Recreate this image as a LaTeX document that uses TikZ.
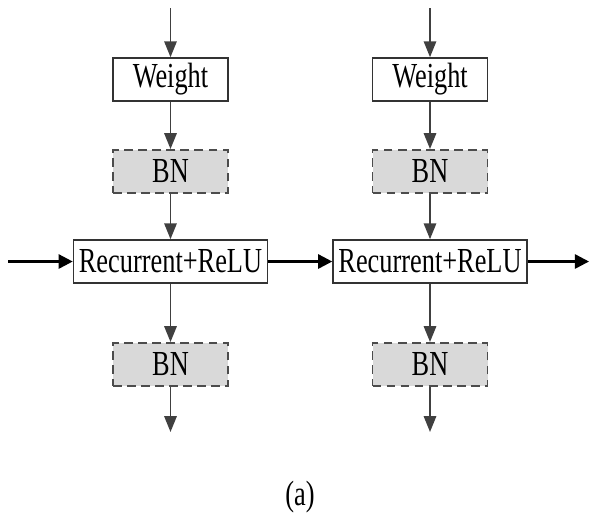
\documentclass[tikz,border=0pt]{standalone}
\usepackage{fontspec}
\setmainfont[FakeStretch=0.75]{Liberation Serif}
\usepackage{tikz}
\usetikzlibrary{positioning,arrows.meta}

\begin{document}
\begin{tikzpicture}[x=0.02cm,y=-0.02cm,
        every node/.style={font=\fontsize{20}{24}\selectfont},
        box/.style={draw=black!80,line width=0.9pt,fill=white,minimum width=2.3cm,minimum height=0.86cm,inner sep=0pt},
        bnbox/.style={box,draw=black!70,fill=black!15,line width=1.1pt,dash pattern=on 5pt off 3pt},
        vflow/.style={draw=black!75,line width=1.1pt,-{Triangle[length=9pt,width=7pt]}},
        hflow/.style={draw=black,line width=1.4pt,-{Triangle[length=8pt,width=8pt]}}]
        \useasboundingbox (0,0) rectangle (590,512);
        % left column
        \coordinate (inA) at (170.5,8);
        \node[box] (weightA) at (170.5,79.5) {Weight};
        \node[bnbox] (bnTopA) at (170.5,171.5) {BN};
        \node[box,minimum width=3.88cm] (recA) at (170.5,261.5) {Recurrent+ReLU};
        \node[bnbox] (bnBotA) at (170.5,364.5) {BN};
        \coordinate (outA) at (170.5,432);
        % right column
        \coordinate (inB) at (430,8);
        \node[box] (weightB) at (430,79.5) {Weight};
        \node[bnbox] (bnTopB) at (430,171.5) {BN};
        \node[box,minimum width=3.88cm] (recB) at (430,261.5) {Recurrent+ReLU};
        \node[bnbox] (bnBotB) at (430,364.5) {BN};
        \coordinate (outB) at (430,432);
        % recurrent path
        \coordinate (hIn) at (8,261.5);
        \coordinate (hOut) at (589,261.5);
        \draw[vflow] (inA) -- (weightA);
        \draw[vflow] (weightA) -- (bnTopA);
        \draw[vflow] (bnTopA) -- (recA);
        \draw[vflow] (recA) -- (bnBotA);
        \draw[vflow] (bnBotA) -- (outA);
        \draw[vflow] (inB) -- (weightB);
        \draw[vflow] (weightB) -- (bnTopB);
        \draw[vflow] (bnTopB) -- (recB);
        \draw[vflow] (recB) -- (bnBotB);
        \draw[vflow] (bnBotB) -- (outB);
        \draw[hflow] (hIn) -- (recA);
        \draw[hflow] (recA) -- (recB);
        \draw[hflow] (recB) -- (hOut);
        \node (caption) at (300,497) {(a)};
    \end{tikzpicture}
\end{document}
